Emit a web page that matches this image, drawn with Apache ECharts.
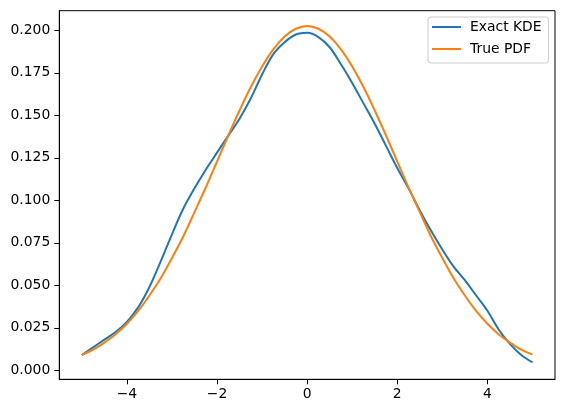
<!DOCTYPE html>
<html>
<head>
<meta charset="utf-8">
<script src="https://cdn.jsdelivr.net/npm/echarts@6/dist/echarts.min.js"></script>
<style>html,body{margin:0;padding:0;background:#fff}#c{width:565px;height:413px}</style>
</head>
<body>
<div id="c"></div>
<script>
var xs = [-5,-4.75,-4.5,-4.25,-4,-3.75,-3.5,-3.25,-3,-2.75,-2.5,-2.25,-2,-1.75,-1.5,-1.25,-1,-0.75,-0.5,-0.25,0,0.25,0.5,0.75,1,1.25,1.5,1.75,2,2.25,2.5,2.75,3,3.25,3.5,3.75,4,4.25,4.5,4.75,5];
var kdeValues = [0.009,0.0135,0.018,0.0225,0.0285,0.037,0.049,0.064,0.080,0.095,0.107,0.118,0.128,0.138,0.148,0.160,0.174,0.186,0.193,0.1975,0.1985,0.196,0.190,0.180,0.169,0.157,0.145,0.132,0.119,0.107,0.094,0.082,0.071,0.061,0.053,0.044,0.035,0.024,0.0155,0.009,0.0047];
var pdfValues = [0.0090,0.0121,0.0163,0.0212,0.0274,0.0349,0.0440,0.0541,0.0660,0.0787,0.0930,0.1075,0.1228,0.1381,0.1528,0.1666,0.1787,0.1888,0.1963,0.2009,0.2025,0.2009,0.1963,0.1888,0.1787,0.1666,0.1528,0.1381,0.1228,0.1075,0.0930,0.0787,0.0660,0.0541,0.0440,0.0349,0.0274,0.0212,0.0163,0.0121,0.0092];
var xTicks = [-4,-2,0,2,4];
var yTicks = [0,0.025,0.05,0.075,0.1,0.125,0.15,0.175,0.2];
var seriesNames = ['Exact KDE','True PDF'];

function pairs(v){ return xs.map(function(x,i){ return [x, v[i]]; }); }
var font = 'DejaVu Sans';
var chart = echarts.init(document.getElementById('c'), null, {renderer:'canvas'});
chart.setOption({
  animation: false,
  backgroundColor: '#fff',
  grid: {left: 59.3, top: 10.7, right: 10, bottom: 33.7, show: true, borderColor: '#000', borderWidth: 1, backgroundColor: 'transparent'},
  legend: {
    orient: 'vertical', left: 428, top: 17,
    data: seriesNames.map(function(n){ return {name: n, icon: 'rect'}; }),
    itemWidth: 29, itemHeight: 2, itemGap: 6,
    padding: [2, 7, 6, 4],
    backgroundColor: 'rgba(255,255,255,0.8)', borderColor: '#cccccc', borderWidth: 1, borderRadius: 3,
    textStyle: {fontFamily: font, fontSize: 13.9, color: '#000', lineHeight: 16, padding: [0,0,0,4]}
  },
  xAxis: {
    type: 'value', min: -5.5, max: 5.5,
    splitLine: {show: false},
    axisLine: {show: true, onZero: false, lineStyle: {color: '#000', width: 1}},
    axisTick: {show: true, length: 5, customValues: xTicks, lineStyle: {color: '#000', width: 1}},
    axisLabel: {customValues: xTicks, margin: 8, fontFamily: font, fontSize: 13.9, color: '#000',
      formatter: function(v){ return v < 0 ? '\u2212' + Math.abs(v) : String(v); }}
  },
  yAxis: {
    type: 'value', min: -0.0053, max: 0.2115,
    splitLine: {show: false},
    axisLine: {show: true, onZero: false, lineStyle: {color: '#000', width: 1}},
    axisTick: {show: true, length: 5, customValues: yTicks, lineStyle: {color: '#000', width: 1}},
    axisLabel: {customValues: yTicks, margin: 9, fontFamily: font, fontSize: 13.9, color: '#000',
      formatter: function(v){ return v.toFixed(3); }}
  },
  series: [
    {name: seriesNames[0], type: 'line', data: pairs(kdeValues), smooth: 0.35, showSymbol: false, symbol: 'none',
      lineStyle: {color: '#1f77b4', width: 2}, itemStyle: {color: '#1f77b4'}},
    {name: seriesNames[1], type: 'line', data: pairs(pdfValues), smooth: 0.35, showSymbol: false, symbol: 'none',
      lineStyle: {color: '#ff7f0e', width: 2}, itemStyle: {color: '#ff7f0e'}}
  ]
});
</script>
</body>
</html>
